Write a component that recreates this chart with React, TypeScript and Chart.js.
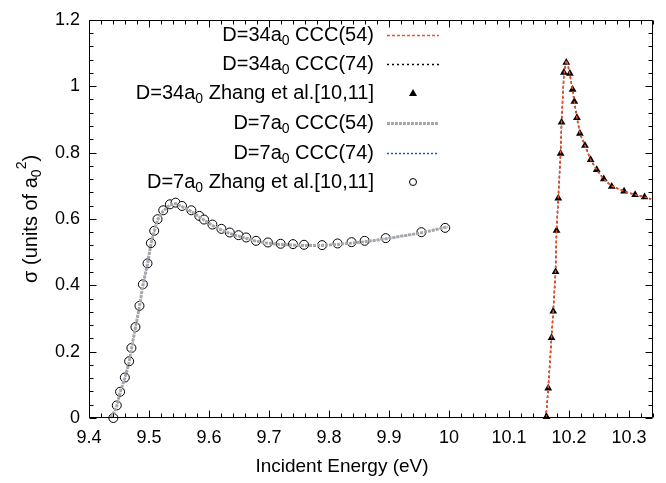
import React, { useEffect, useRef } from "react";
import { Chart, registerables } from "chart.js";

Chart.register(...registerables);

// ---- axes ----
const xMin = 9.4;
const xMax = 10.34;
const yMin = 0;
const yMax = 1.2;
const xTicks = [9.4, 9.5, 9.6, 9.7, 9.8, 9.9, 10.0, 10.1, 10.2, 10.3];
const yTicks = [0, 0.2, 0.4, 0.6, 0.8, 1.0, 1.2];
const xMinorStep = 0.02;
const yMinorStep = 0.04;
const xTitle = "Incident Energy (eV)";

// ---- D=34a0 curves (CCC(54), CCC(74)) ----
const d34CurveE = [10.1615, 10.1654, 10.1709, 10.1737, 10.1776, 10.1793, 10.1821, 10.186, 10.1876, 10.1915, 10.1955, 10.1985, 10.2015, 10.206, 10.2089, 10.2132, 10.2182, 10.2266, 10.2361, 10.2462, 10.2579, 10.2712, 10.2918, 10.3102, 10.3259, 10.337];
const d34Ccc54 = [0, 0.09, 0.242, 0.322, 0.441, 0.565, 0.662, 0.797, 0.891, 1.035, 1.078, 1.062, 1.035, 0.988, 0.953, 0.905, 0.858, 0.821, 0.778, 0.748, 0.72, 0.699, 0.683, 0.673, 0.666, 0.66];
const d34Ccc74 = [0, 0.09, 0.242, 0.322, 0.441, 0.565, 0.662, 0.797, 0.891, 1.035, 1.078, 1.062, 1.035, 0.988, 0.953, 0.905, 0.858, 0.821, 0.778, 0.748, 0.72, 0.699, 0.683, 0.673, 0.666, 0.66];

// ---- D=34a0 Zhang et al. (triangles) ----
const d34ZhangE = [10.1625, 10.1654, 10.1709, 10.1737, 10.1776, 10.1793, 10.1821, 10.186, 10.1876, 10.1915, 10.1955, 10.2015, 10.206, 10.2089, 10.2132, 10.2182, 10.2266, 10.2361, 10.2462, 10.2579, 10.2712, 10.2918, 10.3102, 10.3259];
const d34ZhangS = [0.004, 0.09, 0.242, 0.322, 0.441, 0.565, 0.662, 0.797, 0.891, 1.041, 1.071, 1.038, 0.99, 0.954, 0.905, 0.857, 0.821, 0.778, 0.748, 0.72, 0.698, 0.683, 0.673, 0.666];

// ---- D=7a0 curves (CCC(54), CCC(74)) ----
const d7CurveE = [9.437, 9.4463, 9.4518, 9.4597, 9.4669, 9.4707, 9.4774, 9.4841, 9.4898, 9.4975, 9.5032, 9.5087, 9.5142, 9.5237, 9.5349, 9.5443, 9.555, 9.5706, 9.5839, 9.6057, 9.6207, 9.6346, 9.6492, 9.6784, 9.6982, 9.7194, 9.74, 9.7584, 9.7885, 9.8142, 9.8376, 9.8594, 9.8945, 9.954, 9.998];
const d7Ccc54 = [0, 0.036, 0.077, 0.12, 0.168, 0.208, 0.272, 0.336, 0.4, 0.464, 0.525, 0.562, 0.597, 0.624, 0.642, 0.646, 0.637, 0.622, 0.606, 0.58, 0.567, 0.556, 0.548, 0.533, 0.527, 0.523, 0.521, 0.52, 0.52, 0.523, 0.527, 0.531, 0.54, 0.558, 0.576];
const d7Ccc74 = [0, 0.036, 0.077, 0.12, 0.168, 0.208, 0.272, 0.336, 0.4, 0.464, 0.525, 0.562, 0.597, 0.624, 0.642, 0.646, 0.637, 0.622, 0.606, 0.58, 0.567, 0.556, 0.548, 0.533, 0.527, 0.523, 0.521, 0.52, 0.52, 0.523, 0.527, 0.531, 0.54, 0.558, 0.576];

// ---- D=7a0 Zhang et al. (circles) ----
const d7ZhangE = [9.4406, 9.4463, 9.4518, 9.4597, 9.4669, 9.4707, 9.4774, 9.4841, 9.4898, 9.4975, 9.5032, 9.5087, 9.5142, 9.5237, 9.5349, 9.5443, 9.555, 9.5706, 9.5839, 9.5918, 9.6057, 9.6207, 9.6346, 9.6492, 9.662, 9.6784, 9.6982, 9.7194, 9.74, 9.7584, 9.7885, 9.8142, 9.8376, 9.8594, 9.8945, 9.954, 9.9936];
const d7ZhangS = [0, 0.038, 0.079, 0.122, 0.171, 0.211, 0.274, 0.338, 0.403, 0.466, 0.527, 0.564, 0.599, 0.626, 0.644, 0.649, 0.639, 0.626, 0.609, 0.598, 0.583, 0.57, 0.559, 0.551, 0.544, 0.534, 0.529, 0.525, 0.524, 0.522, 0.521, 0.526, 0.53, 0.534, 0.542, 0.56, 0.573];

// ---- legend ----
const legendLabels = [
  [["D=34a", 0], ["0", 1], [" CCC(54)", 0]],
  [["D=34a", 0], ["0", 1], [" CCC(74)", 0]],
  [["D=34a", 0], ["0", 1], [" Zhang et al.[10,11]", 0]],
  [["D=7a", 0], ["0", 1], [" CCC(54)", 0]],
  [["D=7a", 0], ["0", 1], [" CCC(74)", 0]],
  [["D=7a", 0], ["0", 1], [" Zhang et al.[10,11]", 0]],
];
const yTitleParts = [["σ (units of a", 0], ["0", 1], ["2", 2], [")", 0]];

const FONT = '"Liberation Sans", Arial, Helvetica, sans-serif';
const RED = "#f0502a";
const BLUE = "#2a55c8";
const GREY = "#a8a8a8";

const pts = (xs: number[], ys: number[]) => xs.map((x, i) => ({ x, y: ys[i] }));
const fmt = (v: number) => String(parseFloat(Number(v).toFixed(2)));

function richWidth(ctx: CanvasRenderingContext2D, parts: any[], size: number) {
  let w = 0;
  for (const [t, k] of parts) {
    ctx.font = `${k ? size * 0.7 : size}px ${FONT}`;
    w += ctx.measureText(t).width;
  }
  return w;
}
function drawRich(ctx: CanvasRenderingContext2D, parts: any[], x: number, y: number, size: number) {
  let cx = x;
  for (const [t, k] of parts) {
    const s = k ? size * 0.7 : size;
    ctx.font = `${s}px ${FONT}`;
    const dy = k === 1 ? size * 0.3 : k === 2 ? -size * 0.42 : 0;
    ctx.fillText(t, cx, y + dy);
    cx += ctx.measureText(t).width;
  }
}

const decorPlugin = {
  id: "decor",
  afterDraw(chart: any) {
    const { ctx, chartArea: a, scales } = chart;
    const xs = scales.x;
    const ys = scales.y;
    ctx.save();
    ctx.strokeStyle = "#000";
    ctx.lineWidth = 1;
    const L = Math.round(a.left) + 0.5;
    const R = Math.round(a.right) - 0.5;
    const T = Math.round(a.top) + 0.5;
    const B = Math.round(a.bottom) - 0.5;
    ctx.beginPath();
    ctx.rect(L, T, R - L, B - T);
    ctx.stroke();
    // ticks
    ctx.beginPath();
    const nX = Math.round((xMax - xMin) / xMinorStep);
    for (let i = 0; i <= nX; i++) {
      const v = xMin + i * xMinorStep;
      const major = xTicks.some((t) => Math.abs(t - v) < 1e-6);
      const len = major ? 7 : 4;
      const px = Math.round(xs.getPixelForValue(v)) + 0.5;
      ctx.moveTo(px, B);
      ctx.lineTo(px, B - len);
      ctx.moveTo(px, T);
      ctx.lineTo(px, T + len);
    }
    const nY = Math.round((yMax - yMin) / yMinorStep);
    for (let i = 0; i <= nY; i++) {
      const v = yMin + i * yMinorStep;
      const major = yTicks.some((t) => Math.abs(t - v) < 1e-6);
      const len = major ? 7 : 4;
      const py = Math.round(ys.getPixelForValue(v)) + 0.5;
      ctx.moveTo(L, py);
      ctx.lineTo(L + len, py);
      ctx.moveTo(R, py);
      ctx.lineTo(R - len, py);
    }
    ctx.stroke();

    // titles
    ctx.fillStyle = "#000";
    ctx.textBaseline = "middle";
    ctx.textAlign = "left";
    ctx.font = `19px ${FONT}`;
    const tw = ctx.measureText(xTitle).width;
    ctx.fillText(xTitle, 342 - tw / 2, 467);

    const ysz = 20;
    ctx.save();
    ctx.translate(31, (a.top + a.bottom) / 2);
    ctx.rotate(-Math.PI / 2);
    const yw = richWidth(ctx, yTitleParts, ysz);
    drawRich(ctx, yTitleParts, -yw / 2, 0, ysz);
    ctx.restore();

    // legend
    const lsz = 20;
    const rowY = [35, 64, 93, 123, 153, 182];
    const textRight = 374;
    const sx0 = 387;
    const sx1 = 439;
    const ds = chart.data.datasets;
    legendLabels.forEach((parts, i) => {
      const y = rowY[i];
      const w = richWidth(ctx, parts, lsz);
      ctx.fillStyle = "#000";
      drawRich(ctx, parts, textRight - w, y, lsz);
      const d = ds[i];
      if (d.showLine === false) {
        const cx = (sx0 + sx1) / 2;
        ctx.beginPath();
        ctx.lineWidth = 1;
        ctx.strokeStyle = "#000";
        if (d.pointStyle === "triangle") {
          ctx.fillStyle = "#000";
          ctx.moveTo(cx, y - 4);
          ctx.lineTo(cx + 4, y + 3);
          ctx.lineTo(cx - 4, y + 3);
          ctx.closePath();
          ctx.fill();
        } else {
          ctx.fillStyle = "#fff";
          ctx.arc(cx, y, 3.5, 0, Math.PI * 2);
          ctx.fill();
          ctx.stroke();
        }
      } else {
        ctx.beginPath();
        ctx.setLineDash(d.borderDash || []);
        ctx.lineWidth = d.borderWidth;
        ctx.strokeStyle = d.borderColor;
        ctx.moveTo(sx0, y + 0.5);
        ctx.lineTo(sx1, y + 0.5);
        ctx.stroke();
        ctx.setLineDash([]);
      }
    });
    ctx.restore();
  },
};

export default function App() {
  const ref = useRef<HTMLCanvasElement>(null);
  useEffect(() => {
    document.body.style.margin = "0";
    const canvas = ref.current!;
    const chart = new Chart(canvas, {
      type: "line",
      data: {
        datasets: [
          {
            label: "D=34a0 CCC(54)",
            data: pts(d34CurveE, d34Ccc54),
            borderColor: RED,
            borderWidth: 1.5,
            borderDash: [3, 2],
            pointRadius: 0,
            tension: 0,
            fill: false,
          },
          {
            label: "D=34a0 CCC(74)",
            data: pts(d34CurveE, d34Ccc74),
            borderColor: "#000",
            borderWidth: 1.5,
            borderDash: [2, 3],
            pointRadius: 0,
            tension: 0,
            fill: false,
          },
          {
            label: "D=34a0 Zhang et al.[10,11]",
            data: pts(d34ZhangE, d34ZhangS),
            showLine: false,
            pointStyle: "triangle",
            pointRadius: 4.5,
            pointBackgroundColor: "#000",
            pointBorderColor: "#000",
            pointBorderWidth: 0,
            clip: false,
          },
          {
            label: "D=7a0 CCC(54)",
            data: pts(d7CurveE, d7Ccc54),
            borderColor: GREY,
            borderWidth: 3,
            borderDash: [3, 1],
            pointRadius: 0,
            tension: 0,
            fill: false,
          },
          {
            label: "D=7a0 CCC(74)",
            data: pts(d7CurveE, d7Ccc74),
            borderColor: BLUE,
            borderWidth: 1.5,
            borderDash: [2, 2],
            pointRadius: 0,
            tension: 0,
            fill: false,
          },
          {
            label: "D=7a0 Zhang et al.[10,11]",
            data: pts(d7ZhangE, d7ZhangS),
            showLine: false,
            pointStyle: "circle",
            pointRadius: 4.5,
            pointBackgroundColor: "#fff",
            pointBorderColor: "#000",
            pointBorderWidth: 1,
            clip: false,
          },
        ] as any,
      },
      options: {
        responsive: false,
        animation: false,
        devicePixelRatio: 1,
        layout: { padding: { top: 12, right: 13, left: 0, bottom: 0 } },
        plugins: { legend: { display: false }, tooltip: { enabled: false } },
        scales: {
          x: {
            type: "linear",
            min: xMin,
            max: xMax,
            grid: { display: false, drawTicks: false },
            border: { display: false },
            afterBuildTicks: (s: any) => {
              s.ticks = xTicks.map((v) => ({ value: v }));
            },
            afterFit: (s: any) => {
              s.height = 65;
            },
            ticks: {
              color: "#000",
              font: { family: FONT, size: 18 },
              padding: 9,
              maxRotation: 0,
              autoSkip: false,
              callback: (v: any) => fmt(v),
            },
          },
          y: {
            type: "linear",
            min: yMin,
            max: yMax,
            grid: { display: false, drawTicks: false },
            border: { display: false },
            afterBuildTicks: (s: any) => {
              s.ticks = yTicks.map((v) => ({ value: v }));
            },
            afterFit: (s: any) => {
              s.width = 89;
            },
            ticks: {
              color: "#000",
              font: { family: FONT, size: 18 },
              padding: 9,
              callback: (v: any) => fmt(v),
            },
          },
        },
      } as any,
      plugins: [decorPlugin],
    });
    return () => chart.destroy();
  }, []);
  return (
    <div style={{ width: 666, height: 483, position: "relative" }}>
      <canvas ref={ref} width={666} height={483} style={{ display: "block" }} />
    </div>
  );
}
